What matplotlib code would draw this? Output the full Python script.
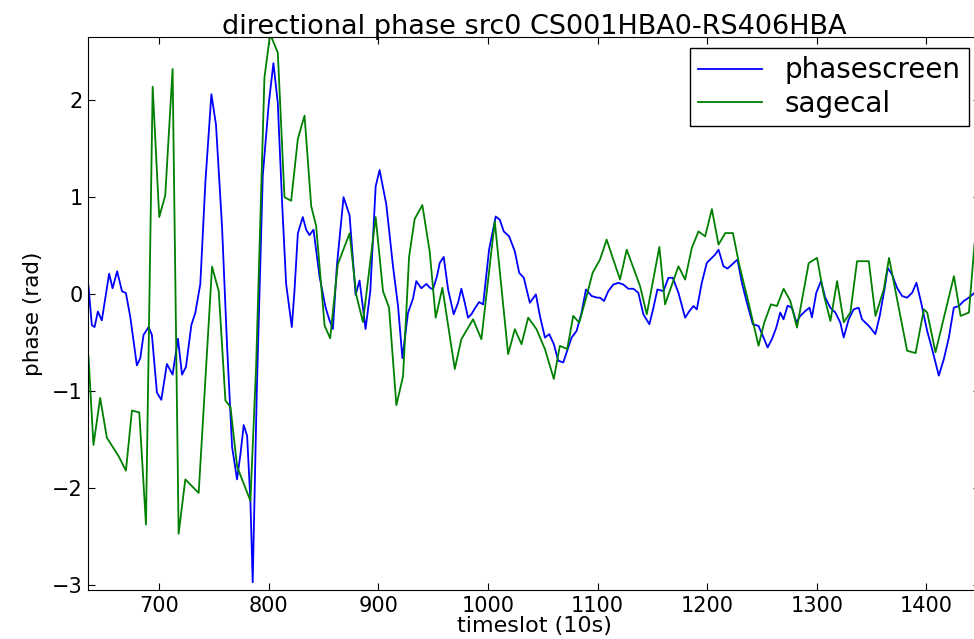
import matplotlib
matplotlib.use('Agg')
import matplotlib.pyplot as plt

# phasescreen (blue)
ps_t = [635.4, 638.5, 641, 644, 647.6, 650.7, 654.3, 657.4, 661.6, 666, 669.6, 673.5, 679.6, 682.7,
        685.7, 690.3, 693.3, 697.9, 701.9, 707, 712.2, 717.1, 720.8, 724.4, 729.3, 733, 737.5, 742.1,
        747.6, 751.8, 757.3, 761.9, 766.5, 771, 774.1, 777.1, 780.2, 783.2, 785.3, 789, 794.5, 800,
        804.2, 808.2, 812.2, 815.8, 821, 823.4, 826.5, 831, 834.1, 837.1, 840.8, 846.3, 851.8, 855.4,
        858.5, 862.1, 868.2, 873.7, 879.2, 882.8, 888.3, 892.6, 897.5, 901.1, 907.2, 913.3, 917.9,
        921.9, 927, 931.6, 934.6, 939.2, 943.8, 946.8, 949.8, 953.5, 956, 959.6, 963.6, 968.7, 972.7,
        975.7, 978.8, 981.8, 984.9, 987.9, 991.9, 995.6, 1001, 1007.1, 1010.8, 1014.4, 1019.3, 1024.5,
        1028.5, 1032.7, 1038.2, 1043.7, 1047.4, 1052, 1055.9, 1060.1, 1064.1, 1068.7, 1072.3, 1076.3,
        1080.9, 1085.4, 1089.4, 1094.6, 1099.8, 1102.2, 1105.9, 1109.8, 1114.4, 1119, 1123.5, 1128.1,
        1132.7, 1137.2, 1141.8, 1147.3, 1151, 1154.6, 1160.1, 1164.7, 1168.6, 1173.8, 1179.9, 1183.9,
        1187.5, 1190.6, 1195.1, 1199.7, 1204.3, 1207.3, 1210.4, 1214.9, 1218.6, 1222.6, 1227.7, 1231.7,
        1236.3, 1241.7, 1246.9, 1251.5, 1255.2, 1259.1, 1263.1, 1266.7, 1269.7, 1273.4, 1277.4, 1281.3,
        1285, 1289.6, 1293.5, 1295.6, 1299.6, 1303.9, 1307.8, 1312.4, 1317, 1321.5, 1324.6, 1329.2,
        1333.7, 1338.3, 1341.3, 1345.9, 1348.9, 1353.5, 1357.5, 1361.8, 1364.8, 1368.8, 1373.3, 1377.9,
        1382.5, 1387.1, 1391, 1395.3, 1400.8, 1405.3, 1411.4, 1416, 1420.6, 1425.1, 1429.7, 1434.3,
        1438.8, 1444, 1449]
ps_phase = [0.085, -0.32, -0.34, -0.18, -0.27, -0.045, 0.21, 0.06, 0.235, 0.03, 0.01, -0.23, -0.735, -0.66,
            -0.42, -0.34, -0.42, -1.015, -1.09, -0.72, -0.83, -0.46, -0.83, -0.75, -0.32, -0.19, 0.105, 1.15,
            2.06, 1.745, 0.7, -0.53, -1.575, -1.91, -1.65, -1.35, -1.46, -2.13, -2.97, -1.015, 1.223, 1.97,
            2.38, 1.97, 0.925, 0.105, -0.34, 0.03, 0.626, 0.794, 0.664, 0.608, 0.664, 0.179, -0.138, -0.27,
            -0.36, 0.29, 0.999, 0.813, -0.008, 0.14, -0.36, 0.03, 1.11, 1.279, 0.925, 0.29, -0.12,
            -0.66, -0.195, -0.045, 0.134, 0.06, 0.105, 0.067, 0.048, 0.185, 0.322, 0.383, 0.048, -0.208, -0.089,
            0.055, -0.089, -0.243, -0.208, -0.15, -0.082, -0.106, 0.458, 0.8, 0.766, 0.646, 0.595, 0.441,
            0.219, 0.168, -0.089, -0.003, -0.225, -0.448, -0.413, -0.516, -0.687, -0.704, -0.584, -0.448,
            -0.379, -0.191, 0.048, -0.02, -0.037, -0.037, -0.071, 0.031, 0.099, 0.116, 0.099, 0.055,
            0.055, 0.014, -0.208, -0.311, -0.14, 0.048, 0.031, 0.168, 0.168, 0.014, -0.243, -0.174,
            -0.123, -0.157, 0.116, 0.322, 0.373, 0.407, 0.458, 0.287, 0.263, 0.304, 0.356, 0.116,
            -0.089, -0.311, -0.328, -0.448, -0.55, -0.465, -0.345, -0.19, -0.26, -0.12, -0.14, -0.29,
            -0.225, -0.174, -0.14, -0.24, 0.014, 0.134, -0.037, -0.14, -0.19, -0.293, -0.447, -0.26,
            -0.157, -0.14, -0.26, -0.31, -0.345, -0.413, -0.225, 0.048, 0.27, 0.2, 0.065, -0.02,
            -0.037, 0.014, 0.117, -0.088, -0.38, -0.567, -0.84, -0.67, -0.447, -0.14, -0.123, -0.07,
            -0.037, 0.014, 0.05]

# sagecal (green)
sc_t = [635.4, 640, 646.1, 652.2, 662.9, 669.6, 675.1, 681.8, 687.9, 694, 700, 705.5, 712.2, 717.7,
        723.8, 736, 748.2, 754.3, 760.4, 765, 771.1, 783.2, 788.4, 796, 801.2, 808.2, 814.3, 820.4,
        826.5, 832.6, 838.7, 843.2, 850.9, 856, 863, 873.7, 879.8, 885.9, 897.5, 904.2, 909.7, 916.4,
        922.5, 928, 933.1, 940.1, 946.8, 952.3, 958.4, 969.7, 975.7, 986.4, 994, 1006.2, 1018.4,
        1024.5, 1030.6, 1036.7, 1044.3, 1052, 1060.1, 1065.6, 1072.3, 1077.8, 1083.3, 1090, 1095.5,
        1102.2, 1108.3, 1120.5, 1126.6, 1138.8, 1144.9, 1156.4, 1161.6, 1173.8, 1179.9, 1186, 1192.1,
        1198.2, 1204.3, 1210.4, 1216.5, 1223.5, 1229.6, 1237.8, 1246.9, 1252.1, 1258.2, 1263.7,
        1269.8, 1275.9, 1282, 1292.7, 1300.3, 1306.3, 1312.5, 1318.6, 1324.7, 1330.7, 1336.8, 1347.5,
        1353.6, 1361.2, 1366, 1382.5, 1390.2, 1397.8, 1400.8, 1408.4, 1425.2, 1431.3, 1438.9, 1444,
        1449]
sc_phase = [-0.64, -1.555, -1.07, -1.48, -1.67, -1.82, -1.2, -1.22, -2.375, 2.137, 0.794, 1.018, 2.32, -2.47,
            -1.91, -2.05, 0.283, 0.03, -1.097, -1.164, -1.78, -2.13, -0.75, 2.23, 2.68, 2.49, 0.999, 0.962,
            1.6, 1.84, 0.906, 0.701, -0.325, -0.455, 0.309, 0.626, -0.008, -0.288, 0.794, 0.03, -0.138, -1.145,
            -0.847, 0.384, 0.775, 0.917, 0.44, -0.243, 0.065, -0.772, -0.465, -0.26, -0.465, 0.749, -0.619,
            -0.362, -0.516, -0.243, -0.362, -0.567, -0.875, -0.533, -0.567, -0.225, -0.294, -0.02, 0.219,
            0.356, 0.561, 0.15, 0.458, 0.082, -0.208, 0.486, -0.106, 0.287, 0.15, 0.476, 0.646,
            0.595, 0.876, 0.51, 0.629, 0.629, 0.287, -0.089, -0.533, -0.294, -0.106, -0.123,
            0.055, -0.07, -0.345, 0.32, 0.373, 0.0, -0.277, 0.134, -0.29, -0.19, 0.339, 0.339,
            -0.225, 0.048, 0.373, -0.584, -0.608, -0.157, -0.19, -0.6, 0.185, -0.225, -0.19, 0.52,
            0.75]

plt.rcParams['font.family'] = 'DejaVu Sans'
plt.rcParams['font.size'] = 16

fig = plt.figure(figsize=(9.74, 6.39), dpi=100)
ax = fig.add_axes([88 / 974, 1 - 590 / 639, (980 - 88) / 974, (590 - 37) / 639])

ax.plot(ps_t, ps_phase, color='b', lw=1.3, label='phasescreen')
ax.plot(sc_t, sc_phase, color='g', lw=1.3, label='sagecal')

ax.set_xlim(635, 1449)
ax.set_ylim(-3.05, 2.65)
ax.set_xticks([700, 800, 900, 1000, 1100, 1200, 1300, 1400])
ax.set_yticks([-3, -2, -1, 0, 1, 2])
ax.tick_params(direction='in', top=True, right=True, length=5, labelsize=15, pad=4)

ax.set_title('directional phase src0 CS001HBA0-RS406HBA', fontsize=19.5, pad=2)
ax.set_xlabel('timeslot (10s)', fontsize=16, labelpad=0)
ax.set_ylabel('phase (rad)', fontsize=15.5, labelpad=6)

leg = ax.legend(loc='upper right', fancybox=False, fontsize=20, framealpha=1,
                labelspacing=0.2, borderpad=0.3, handlelength=2.3, borderaxespad=0.4)
leg.get_frame().set_edgecolor('black')

fig.savefig('out.png', dpi=100)
